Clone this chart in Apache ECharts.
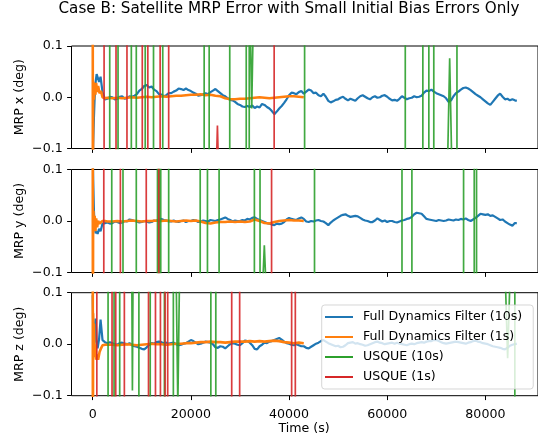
<!DOCTYPE html>
<html><head><meta charset="utf-8">
<script src="https://cdn.jsdelivr.net/npm/echarts@6/dist/echarts.min.js"></script>
<style>html,body{margin:0;padding:0;background:#fff}#c{width:538px;height:442px}</style>
</head><body><div id="c"></div><script>
// ---------------- DATA ----------------
const titleText = 'Case B: Satellite MRP Error with Small Initial Bias Errors Only';
const panelLabels = ['MRP x (deg)', 'MRP y (deg)', 'MRP z (deg)'];
const seriesNames = ['Full Dynamics Filter (10s)', 'Full Dynamics Filter (1s)', 'USQUE (10s)', 'USQUE (1s)'];
const xTicks = [0, 20000, 40000, 60000, 80000];
const yTicks = [-0.1, 0, 0.1];

// Full Dynamics Filter (10s) sample times (s)
const blueTime = [0,100,250,400,600,800,1000,1300,1600,2000,2500,
 3000,3500,4000,4500,5000,5500,6000,6500,7000,7500,8000,8500,9000,9500,10000,10500,11000,11500,12000,12500,
 13000,13500,14000,14500,15000,15500,16000,16500,17000,17500,18000,18500,19000,19500,20000,20500,21000,21500,
 22000,22500,23000,23500,24000,24500,25000,25500,26000,26500,27000,27500,28000,28500,29000,29500,30000,30500,
 31000,31500,32000,32500,33000,33500,34000,34500,35000,35500,36000,36500,37000,37500,38000,38500,39000,39500,
 40000,40500,41000,41500,42000,42500,43000,43500,44000,44500,45000,45500,46000,46500,47000,47500,48000,48500,
 49000,49500,50000,50500,51000,51500,52000,52500,53000,53500,54000,54500,55000,55500,56000,56500,57000,57500,
 58000,58500,59000,59500,60000,60500,61000,61500,62000,62500,63000,63500,64000,64500,65000,65500,66000,66500,
 67000,67500,68000,68500,69000,69500,70000,70500,71000,71500,72000,72500,73000,73500,74000,74500,75000,75500,
 76000,76500,77000,77500,78000,78500,79000,79500,80000,80500,81000,81500,82000,82500,83000,83500,84000,84500,
 85000,85500,86000,86400];
const blueX = [-0.15,-0.09,-0.04,0.0,0.03,0.045,0.047,0.03,0.04,0.01,-0.004,
 -0.003,0.001,0.000,-0.004,-0.003,0.001,0.002,-0.003,-0.002,0.002,0.001,0.003,0.006,0.013,0.016,0.022,0.024,0.019,0.021,0.015,
 0.012,0.006,0.005,0.002,0.004,0.008,0.008,0.011,0.013,0.017,0.016,0.014,0.017,0.014,0.012,0.009,0.007,0.003,
 0.004,0.006,0.008,0.006,0.010,0.013,0.016,0.012,0.008,0.004,0.002,-0.002,-0.005,-0.006,-0.009,-0.013,-0.015,-0.018,
 -0.019,-0.017,-0.019,-0.016,-0.021,-0.018,-0.020,-0.013,-0.015,-0.019,-0.022,-0.027,-0.033,-0.028,-0.022,-0.017,-0.011,-0.004,
 0.004,0.009,0.008,0.006,0.010,0.012,0.007,0.011,0.015,0.013,0.008,0.009,0.004,0.002,0.007,0.001,-0.007,-0.010,
 -0.008,-0.005,-0.004,-0.001,0.001,-0.003,-0.006,-0.003,-0.005,-0.007,-0.002,0.002,0.004,0.001,-0.002,-0.004,0.000,0.002,
 -0.001,0.000,0.003,0.004,0.001,-0.003,-0.006,-0.005,-0.007,-0.003,0.002,-0.001,-0.004,-0.002,-0.001,0.002,0.000,0.001,
 0.003,0.009,0.013,0.012,0.015,0.011,0.008,0.006,0.004,0.002,-0.002,-0.009,-0.006,0.002,0.008,0.011,0.015,0.018,
 0.019,0.017,0.014,0.010,0.006,0.003,0.000,-0.004,-0.008,-0.012,-0.015,-0.009,-0.003,0.003,0.007,0.001,-0.004,-0.003,
 -0.006,-0.004,-0.006,-0.007];
const blueY = [0.15,0.08,0.02,-0.01,-0.024,-0.02,-0.025,-0.015,-0.02,-0.005,-0.004,
 -0.003,-0.005,-0.004,-0.001,-0.002,-0.004,-0.003,0.000,-0.001,0.003,0.002,0.000,-0.001,-0.003,-0.002,0.000,-0.001,-0.003,-0.002,0.001,
 0.000,0.003,0.004,0.002,0.001,-0.001,-0.001,0.001,-0.001,-0.002,0.000,0.001,-0.002,0.000,0.000,0.002,0.001,-0.002,
 -0.001,0.001,0.000,-0.001,0.002,0.001,0.000,0.002,0.003,0.005,0.007,0.004,0.002,-0.001,0.001,0.000,0.000,0.002,
 0.001,0.004,0.003,0.006,0.007,0.004,0.002,0.000,-0.002,-0.004,-0.005,-0.007,-0.008,-0.005,-0.006,-0.005,-0.002,0.003,
 0.006,0.004,0.003,0.002,0.005,0.007,0.004,-0.001,-0.002,0.000,-0.001,0.001,0.002,0.000,-0.001,-0.004,-0.008,-0.003,
 0.001,0.004,0.007,0.010,0.012,0.013,0.010,0.008,0.009,0.010,0.009,0.006,0.003,0.001,0.000,-0.002,-0.002,0.001,
 0.005,0.002,-0.001,0.001,-0.002,0.000,0.000,-0.002,-0.003,-0.001,0.001,0.002,0.004,0.005,0.008,0.013,0.016,0.015,
 0.014,0.009,0.004,0.003,0.002,0.001,0.000,0.002,0.001,0.000,0.001,0.003,0.002,0.001,0.003,0.002,0.004,0.003,
 0.005,0.002,0.000,0.003,0.006,0.010,0.014,0.013,0.012,0.013,0.010,0.011,0.008,0.005,0.002,0.003,-0.001,-0.004,
 -0.007,-0.009,-0.004,-0.004];
const blueZ = [0.095,0.03,0.0,0.01,0.05,0.0,-0.008,0.01,0.048,0.008,0.004,
 0.002,0.004,0.002,0.000,-0.001,0.002,0.003,0.001,0.000,0.002,-0.002,-0.004,-0.005,-0.007,-0.009,-0.010,-0.006,-0.001,0.002,0.001,
 0.004,0.005,0.004,0.002,0.003,0.001,0.002,0.003,0.000,-0.002,-0.001,0.001,0.002,0.005,0.008,0.006,0.003,0.000,
 0.001,0.003,0.005,0.004,0.003,0.000,-0.006,-0.007,-0.004,-0.005,-0.008,-0.004,0.000,0.002,0.001,-0.001,-0.002,0.002,
 0.007,0.006,0.003,-0.002,-0.009,-0.010,-0.004,-0.001,0.003,0.002,0.005,0.006,0.008,0.010,0.012,0.009,0.005,0.002,
 0.001,-0.001,-0.002,0.000,-0.002,-0.004,-0.004,-0.007,-0.008,-0.005,-0.002,0.001,0.003,0.006,0.008,0.005,0.002,0.000,
 -0.002,-0.004,-0.003,-0.006,-0.005,-0.002,0.002,0.003,0.004,0.001,0.002,0.000,-0.001,-0.003,-0.002,0.000,0.002,0.004,
 0.005,0.003,0.002,0.000,0.001,0.002,0.003,0.001,0.003,0.001,0.000,-0.001,-0.002,0.000,0.001,0.000,0.002,0.003,
 0.004,0.003,0.005,0.006,0.006,0.008,0.008,0.006,0.004,0.002,0.001,0.002,0.003,0.004,0.005,0.004,0.003,0.002,
 0.001,0.003,0.004,0.006,0.007,0.005,0.004,0.002,0.001,0.000,-0.002,-0.004,-0.005,-0.006,-0.007,-0.009,-0.010,-0.007,
 -0.003,-0.001,0.000,0.001];

// Full Dynamics Filter (1s) sample times (s)
const orangeTime = [0,40,80,150,250,400,550,700,900,1100,1400,1700,2000,2500,3000,
 4000,5000,6000,7000,8000,9000,10000,11000,12000,13000,14000,15000,16000,17000,18000,19000,20000,
 21000,22000,23000,24000,25000,26000,27000,28000,29000,30000,31000,32000,33000,34000,35000,36000,37000,
 38000,39000,40000,41000,42000,43000];
const orangeX = [0.3,-0.3,0.02,0.03,-0.005,0.025,0.005,0.028,0.01,0.022,0.008,0.012,0.0,-0.002,-0.001,
 -0.002,-0.001,-0.002,-0.001,0.000,-0.001,0.000,0.001,0.000,0.001,0.002,0.001,0.002,0.003,0.003,0.004,0.005,
 0.005,0.006,0.004,0.005,0.003,0.002,-0.002,-0.004,-0.004,-0.003,-0.003,-0.002,-0.001,0.000,-0.001,-0.002,-0.001,
 0.000,0.001,0.002,0.002,0.001,0.000];
const orangeY = [0.3,-0.3,-0.02,0.02,-0.015,0.01,-0.02,0.005,-0.012,0.0,-0.005,-0.002,0.0,0.0,-0.001,
 -0.001,0.000,-0.001,0.000,0.001,0.000,-0.001,0.000,0.000,0.001,0.000,0.001,0.000,-0.001,0.000,0.001,0.000,
 0.001,-0.001,-0.004,-0.005,-0.003,-0.002,-0.002,-0.001,-0.002,-0.001,-0.002,-0.001,0.003,0.000,-0.004,-0.005,-0.002,
 0.000,0.001,0.002,0.001,0.001,0.000];
const orangeZ = [0.3,-0.3,0.06,-0.02,0.04,-0.025,0.0,-0.03,-0.02,-0.03,-0.015,-0.008,-0.002,-0.001,-0.001,
 -0.001,-0.002,-0.001,0.000,-0.001,-0.002,-0.001,0.000,0.001,0.000,0.000,-0.001,0.000,0.001,0.001,0.002,0.002,
 0.003,0.004,0.004,0.005,0.004,0.004,0.003,0.004,0.005,0.005,0.005,0.006,0.005,0.006,0.005,0.006,0.007,
 0.006,0.004,0.003,0.002,0.003,0.002];

// USQUE: estimates are mostly far outside +/-0.1 deg; they swing across the
// visible band at these times (s). Spikes: [start, end, extreme value, side it comes from]
const usque10X_cross = [3470,5160,7870,8880,10700,12390,14270,22710,23730,27920,31280,31890,43170,63680,67260,68480,69490,74210];
const usque10X_spikes = [[32170,32630,-0.022,'top'],[72350,73100,0.076,'bottom']];
const usque1X_cross = [2320,4750,6980,10100,11230,13740,15480,36970];
const usque1X_spikes = [[25280,25540,-0.055,'bottom']];
const usque10Y_cross = [3880,6170,8880,13200,13600,13860,15480,21900,23380,25750,32940,34090,45190,63010,65030,75560,77730,78200];
const usque10Y_spikes = [[34720,35210,-0.047,'bottom']];
const usque1Y_cross = [2260,5640,10910,13460,36440];
const usque1Y_spikes = [];
const usque10Z_cross = [3130,4350,5500,9410,11720,14610,16430,24070,25080,86000];
const usque10Z_spikes = [[7980,8200,-0.09,'top'],[17040,17650,-0.12,'top'],[84130,84940,-0.027,'top']];
const usque1Z_cross = [840,3940,4690,6450,11370,12790,13800,14750,15280,28320,29940,40530,41280];
const usque1Z_spikes = [];

// ---------------- BUILD ----------------
function pairs(ts, vs) {
  const n = Math.min(ts.length, vs.length);
  const out = [];
  for (let i = 0; i < n; i++) out.push([ts[i], vs[i]]);
  return out;
}
function usque(cross, spikes) {
  const ev = [];
  cross.forEach(t => ev.push({t: t, pts: [[t - 5, 1], [t + 5, -1]]}));
  spikes.forEach(s => {
    const side = s[3] === 'top' ? 0.105 : -0.105;
    ev.push({t: s[0], pts: [[s[0], side], [(s[0] + s[1]) / 2, s[2]], [s[1], side]]});
  });
  ev.sort((a, b) => a.t - b.t);
  const out = [];
  ev.forEach(e => { e.pts.forEach(p => out.push(p)); out.push([e.pts[e.pts.length - 1][0], null]); });
  return out;
}

const FONT = 'DejaVu Sans';
const colors = ['#1f77b4', '#ff7f0e', '#2ca02c', '#d62728'];
const gridTops = [46, 169.5, 292.7];
const gridHeights = [102.5, 103, 103];
const blue = [blueX, blueY, blueZ];
const orange = [orangeX, orangeY, orangeZ];
const g10 = [[usque10X_cross, usque10X_spikes], [usque10Y_cross, usque10Y_spikes], [usque10Z_cross, usque10Z_spikes]];
const g1 = [[usque1X_cross, usque1X_spikes], [usque1Y_cross, usque1Y_spikes], [usque1Z_cross, usque1Z_spikes]];

const grid = [], xAxis = [], yAxis = [], series = [], graphic = [];
const fmtY = v => (v < -1e-9 ? '\u2212' : '') + Math.abs(v).toFixed(1);
for (let p = 0; p < 3; p++) {
  grid.push({left: 71.5, top: gridTops[p], width: 469.4, height: gridHeights[p], show: true,
    borderColor: '#000', borderWidth: 1, backgroundColor: 'transparent', containLabel: false});
  xAxis.push({type: 'value', gridIndex: p, min: -4320, max: 90720, position: 'bottom',
    axisLine: {show: false, onZero: false}, splitLine: {show: false},
    axisTick: {show: true, customValues: xTicks, length: 4.4, lineStyle: {color: '#000', width: 1}},
    axisLabel: {show: p === 2, customValues: xTicks, margin: 13, fontSize: 12.6, fontFamily: FONT, color: '#000',
      formatter: v => String(Math.round(v))}});
  yAxis.push({type: 'value', gridIndex: p, min: -0.1, max: 0.1, position: 'left',
    axisLine: {show: false, onZero: false}, splitLine: {show: false},
    axisTick: {show: true, customValues: yTicks, length: 4.4, lineStyle: {color: '#000', width: 1}},
    axisLabel: {show: true, customValues: yTicks, margin: 8.8, fontSize: 12.6, fontFamily: FONT, color: '#000', formatter: fmtY}});
  const base = {type: 'line', xAxisIndex: p, yAxisIndex: p, showSymbol: false, symbol: 'none',
    clip: true, animation: false, connectNulls: false, silent: true};
  series.push(Object.assign({}, base, {name: seriesNames[0], color: colors[0], data: pairs(blueTime, blue[p]),
    lineStyle: {width: 2.2, color: colors[0]}}));
  series.push(Object.assign({}, base, {name: seriesNames[1], color: colors[1], data: pairs(orangeTime, orange[p]),
    lineStyle: {width: 2.6, color: colors[1]}}));
  series.push(Object.assign({}, base, {name: seriesNames[2], color: colors[2], data: usque(g10[p][0], g10[p][1]),
    lineStyle: {width: 1.7, color: colors[2], opacity: 0.9}}));
  series.push(Object.assign({}, base, {name: seriesNames[3], color: colors[3], data: usque(g1[p][0], g1[p][1]),
    lineStyle: {width: 1.7, color: colors[3], opacity: 0.9}}));
  graphic.push({type: 'text', x: 19.5, y: gridTops[p] + gridHeights[p] / 2, rotation: Math.PI / 2,
    style: {text: panelLabels[p], font: '12.6px "DejaVu Sans"', fill: '#000', textAlign: 'center', textVerticalAlign: 'middle'}});
}
graphic.push({type: 'text', x: 289, y: 8.8,
  style: {text: titleText, font: '15.2px "DejaVu Sans"', fill: '#000', textAlign: 'center', textVerticalAlign: 'middle'}});
graphic.push({type: 'text', x: 304, y: 428.3,
  style: {text: 'Time (s)', font: '12.6px "DejaVu Sans"', fill: '#000', textAlign: 'center', textVerticalAlign: 'middle'}});

const chart = echarts.init(document.getElementById('c'), null, {renderer: 'canvas', width: 538, height: 442});
chart.setOption({
  animation: false,
  backgroundColor: '#fff',
  grid: grid, xAxis: xAxis, yAxis: yAxis, series: series, graphic: graphic,
  legend: {data: seriesNames, orient: 'vertical', left: 321.7, top: 305, selectedMode: false,
    padding: [5, 11, 5, 3.3], itemWidth: 28, itemHeight: 2, itemGap: 6, icon: 'rect',
    backgroundColor: 'rgba(255,255,255,0.8)', borderColor: 'rgba(204,204,204,0.8)', borderWidth: 1, borderRadius: 3,
    textStyle: {fontSize: 12.6, fontFamily: FONT, color: '#000', lineHeight: 14, padding: [0, 0, 0, 5]}}
});
</script></body></html>
